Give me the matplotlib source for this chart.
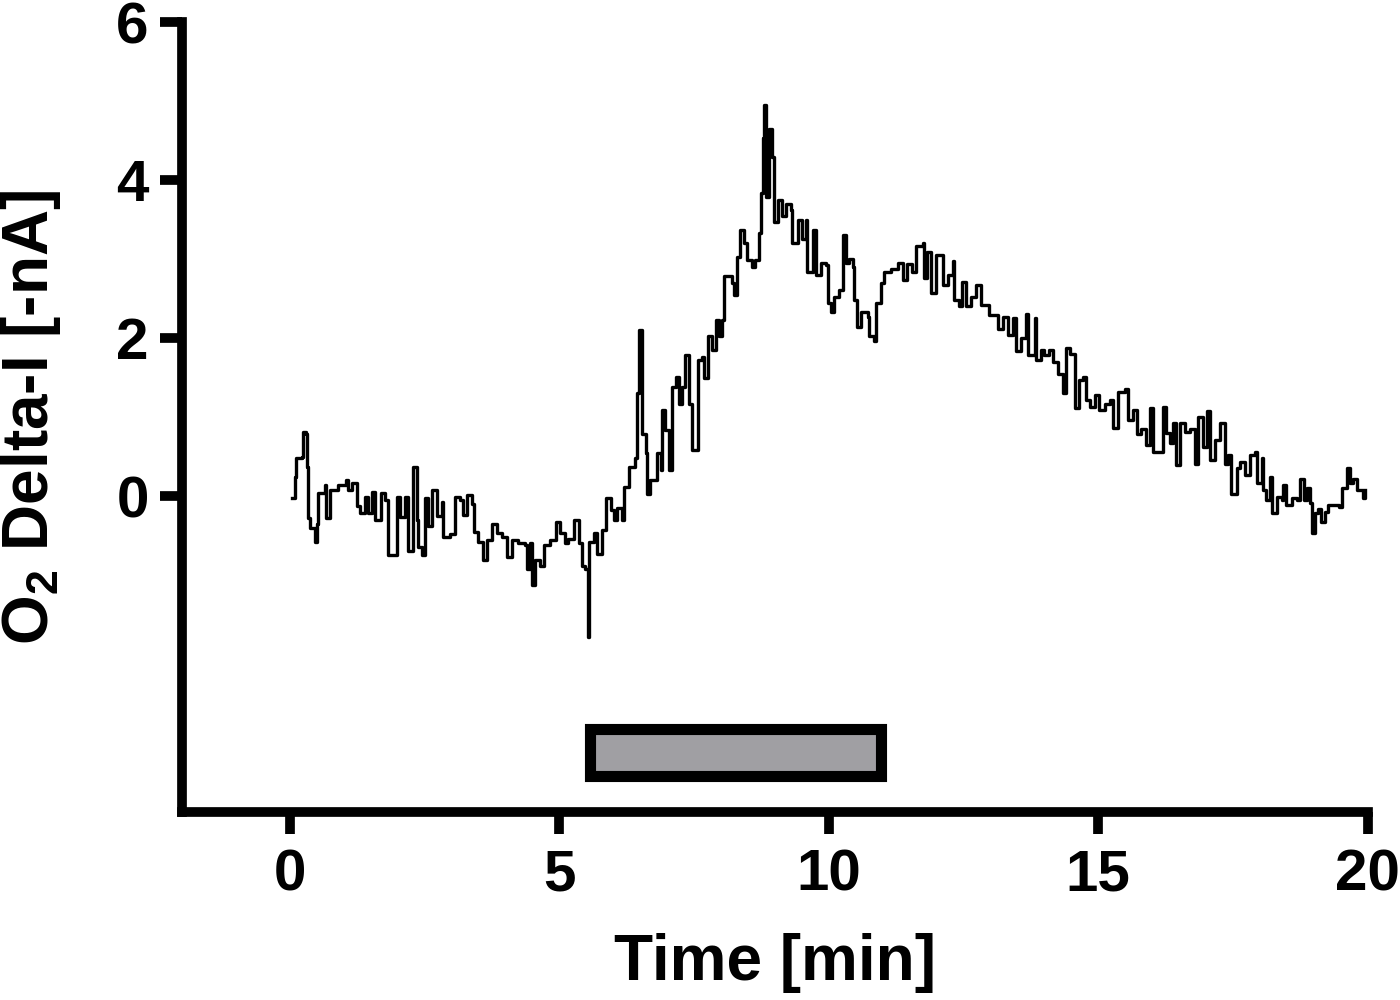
import matplotlib
matplotlib.use("Agg")
import matplotlib.pyplot as plt
from matplotlib.patches import Rectangle

plt.rcParams['font.family'] = ['Liberation Sans', 'DejaVu Sans']
plt.rcParams['font.weight'] = 'bold'
plt.rcParams['mathtext.fontset'] = 'custom'
plt.rcParams['mathtext.rm'] = 'Liberation Sans'
plt.rcParams['mathtext.bf'] = 'Liberation Sans:bold'

# ---- data ----
time_min = [0.05, 0.09, 0.12, 0.22, 0.25, 0.30, 0.31, 0.33, 0.37, 0.46, 0.50, 0.53, 0.65, 0.68,
            0.74, 0.89, 1.05, 1.08, 1.15, 1.24, 1.30, 1.39, 1.45, 1.52, 1.58, 1.70, 1.77, 1.83,
            1.95, 1.98, 2.04, 2.14, 2.20, 2.29, 2.36, 2.38, 2.45, 2.51, 2.57, 2.63, 2.73, 2.82,
            2.85, 2.97, 3.07, 3.16, 3.22, 3.28, 3.38, 3.41, 3.50, 3.59, 3.66, 3.75, 3.84, 3.93,
            4.03, 4.12, 4.24, 4.37, 4.40, 4.46, 4.49, 4.55, 4.65, 4.71, 4.83, 4.93, 5.02, 5.11,
            5.17, 5.27, 5.36, 5.42, 5.48, 5.54, 5.56, 5.64, 5.70, 5.79, 5.86, 5.95, 6.01, 6.07,
            6.16, 6.20, 6.29, 6.41, 6.44, 6.47, 6.53, 6.60, 6.63, 6.69, 6.82, 6.88, 6.91, 6.97,
            7.03, 7.09, 7.16, 7.22, 7.28, 7.34, 7.40, 7.47, 7.53, 7.57, 7.65, 7.68, 7.75, 7.84,
            7.90, 7.96, 8.02, 8.05, 8.15, 8.21, 8.24, 8.30, 8.36, 8.43, 8.49, 8.58, 8.64, 8.70,
            8.74, 8.77, 8.80, 8.83, 8.89, 8.95, 8.98, 9.05, 9.14, 9.20, 9.29, 9.32, 9.42, 9.51,
            9.57, 9.60, 9.70, 9.76, 9.85, 9.94, 9.98, 10.04, 10.10, 10.19, 10.26, 10.32, 10.38,
            10.44, 10.47, 10.53, 10.59, 10.72, 10.75, 10.84, 10.87, 10.97, 11.03, 11.15, 11.28,
            11.37, 11.46, 11.55, 11.62, 11.74, 11.77, 11.83, 11.90, 11.99, 12.11, 12.21, 12.30,
            12.33, 12.42, 12.48, 12.55, 12.64, 12.73, 12.83, 12.98, 13.10, 13.14, 13.23, 13.32,
            13.41, 13.48, 13.57, 13.66, 13.69, 13.82, 13.85, 13.94, 14.00, 14.09, 14.16, 14.25,
            14.34, 14.41, 14.47, 14.56, 14.65, 14.72, 14.78, 14.84, 14.93, 15.02, 15.12, 15.21,
            15.27, 15.37, 15.49, 15.55, 15.64, 15.71, 15.80, 15.89, 15.95, 16.02, 16.14, 16.20,
            16.26, 16.33, 16.39, 16.45, 16.51, 16.60, 16.70, 16.79, 16.85, 16.95, 17.01, 17.07,
            17.16, 17.25, 17.35, 17.41, 17.47, 17.57, 17.63, 17.72, 17.81, 17.91, 17.94, 18.03,
            18.06, 18.12, 18.18, 18.22, 18.31, 18.40, 18.43, 18.49, 18.59, 18.68, 18.74, 18.81,
            18.87, 18.93, 18.96, 19.02, 19.08, 19.14, 19.21, 19.27, 19.36, 19.46, 19.52, 19.61,
            19.67, 19.73, 19.80, 19.92, 19.95]
o2_delta_i = [-0.02, 0.24, 0.48, 0.50, 0.81, 0.79, 0.37, -0.28, -0.41, -0.58, -0.35, 0.04, 0.14, -0.28,
              0.08, 0.14, 0.20, 0.08, 0.16, -0.13, -0.22, -0.01, -0.22, 0.05, -0.30, 0.04, -0.05, -0.75,
              -0.75, -0.01, -0.26, -0.01, -0.70, 0.37, -0.30, -0.64, -0.75, -0.03, -0.38, 0.08, -0.25, -0.07,
              -0.52, -0.48, -0.01, -0.05, -0.24, 0.01, -0.10, -0.45, -0.58, -0.81, -0.56, -0.35, -0.47, -0.52,
              -0.77, -0.56, -0.59, -0.62, -0.92, -0.60, -1.13, -0.81, -0.89, -0.62, -0.56, -0.33, -0.47, -0.60,
              -0.55, -0.30, -0.60, -0.89, -0.92, -1.78, -0.58, -0.47, -0.73, -0.43, -0.03, -0.18, -0.30, -0.15,
              -0.30, 0.12, 0.37, 0.48, 1.30, 2.10, 0.79, 0.55, 0.03, 0.20, 0.54, 0.33, 1.09, 0.84,
              0.33, 1.38, 1.51, 1.17, 1.38, 1.78, 1.17, 0.58, 0.58, 1.72, 1.76, 1.50, 2.02, 1.85,
              2.23, 2.02, 2.23, 2.78, 2.78, 2.69, 2.54, 3.03, 3.37, 3.20, 2.99, 2.90, 2.99, 3.33,
              3.83, 4.53, 4.95, 3.79, 4.65, 4.29, 3.47, 3.75, 3.54, 3.70, 3.62, 3.20, 3.49, 3.25,
              3.49, 2.84, 3.37, 2.80, 2.95, 2.92, 2.44, 2.33, 2.52, 2.61, 3.30, 2.95, 3.00,
              2.90, 2.48, 2.14, 2.33, 2.27, 2.02, 1.96, 2.44, 2.69, 2.84, 2.87, 2.95,
              2.73, 2.94, 2.84, 3.16, 3.20, 2.76, 3.09, 2.57, 3.05, 2.67, 2.80, 2.97,
              2.48, 2.40, 2.71, 2.40, 2.52, 2.67, 2.42, 2.29, 2.29, 2.12, 2.27, 2.04,
              2.25, 1.83, 2.00, 2.31, 1.78, 2.25, 1.72, 1.85, 1.78, 1.85, 1.70, 1.55,
              1.30, 1.87, 1.80, 1.11, 1.47, 1.51, 1.22, 1.13, 1.28, 1.09, 1.17, 1.22,
              0.86, 1.32, 1.36, 0.96, 1.09, 0.79, 0.85, 0.65, 1.11, 0.56, 0.56, 1.13,
              0.80, 0.67, 0.92, 0.39, 0.92, 0.81, 0.85, 0.41, 1.00, 0.62, 1.07, 0.46,
              0.71, 0.92, 0.41, 0.52, 0.03, 0.35, 0.43, 0.27, 0.52, 0.56, 0.16, 0.48,
              0.08, -0.05, 0.24, -0.22, -0.01, -0.05, 0.14, -0.11, -0.02, -0.05, 0.22, -0.05,
              0.10, -0.09, -0.47, -0.22, -0.16, -0.33, -0.20, -0.11, -0.11, -0.14, 0.10, 0.35,
              0.16, 0.22, 0.08, -0.03, 0.08]
x_ticks = [0, 5, 10, 15, 20]
y_ticks = [0, 2, 4, 6]
stim_start, stim_end = 5.57, 10.96
stim_low, stim_high = -3.54, -2.95

fig = plt.figure(figsize=(14, 10), dpi=100)
ax = fig.add_axes([0.13, 0.188, 0.847, 0.79])

ax.plot(time_min, o2_delta_i, color='black', linewidth=2.4, drawstyle='steps-post')

ax.add_patch(Rectangle((stim_start, stim_low), stim_end - stim_start, stim_high - stim_low,
                       facecolor='#a09fa3', edgecolor='black', linewidth=8, zorder=3))

ax.set_xlim(-2, 20)
ax.set_ylim(-4, 6)
ax.set_xticks(x_ticks)
ax.set_yticks(y_ticks)
ax.set_xticklabels([str(v) for v in x_ticks])
ax.set_yticklabels([str(v) for v in y_ticks])

for side in ['top', 'right']:
    ax.spines[side].set_visible(False)
for side in ['left', 'bottom']:
    ax.spines[side].set_linewidth(7)
    ax.spines[side].set_capstyle('projecting')

ax.tick_params(axis='both', which='major', length=16, width=7, labelsize=42)
ax.tick_params(axis='x', pad=10)
ax.tick_params(axis='y', pad=8)
for lab in ax.get_xticklabels() + ax.get_yticklabels():
    lab.set_fontweight('bold')

ax.set_xlabel('Time [min]', fontsize=46, fontweight='bold', labelpad=22)
ax.set_ylabel(r'O$_\mathrm{2}$ Delta-I [-nA]', fontsize=46, fontweight='bold', labelpad=38)

fig.savefig('out.png', dpi=100)
